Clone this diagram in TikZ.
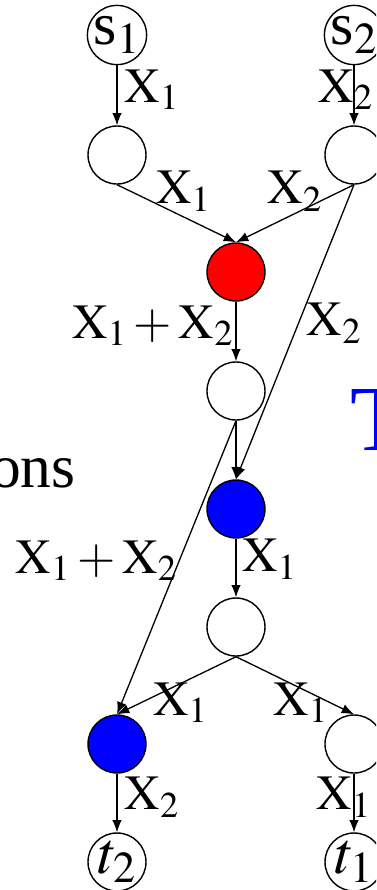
\documentclass[tikz,border=0pt]{standalone}
\usepackage{mathptmx}
\usepackage{fontspec}
\setmainfont{Liberation Serif}
\usetikzlibrary{arrows.meta}
\tikzset{
  >={Latex[length=7pt,width=5.5pt]},
  vtx/.style ={circle,draw=black,line width=0.8pt,minimum size=1.16cm,
               inner sep=0pt,font=\fontsize{34}{36}\selectfont},
  wvtx/.style={vtx,fill=white},
  rvtx/.style={vtx,fill=red},
  bvtx/.style={vtx,fill=blue},
  ar/.style  ={->,line width=0.75pt},
  lbl/.style ={inner sep=1pt,font=\fontsize{28}{30}\selectfont},
  slide/.style={inner sep=0pt},
}
\newcommand{\Xo}{$\mathrm{X}_1$}
\newcommand{\Xt}{$\mathrm{X}_2$}
\newcommand{\Xs}{$\mathrm{X}_1+\mathrm{X}_2$}

\begin{document}
\begin{tikzpicture}
\useasboundingbox (0,0) rectangle (7.52,-17.8);
\clip (0,0) rectangle (7.52,-17.8);
% bits of the slide around the figure
\node[slide,anchor=base east,font=\fontsize{35}{38}\selectfont] (w1) at (1.52,-9.74) {ions};
\node[slide,anchor=base west,text=blue,font=\fontsize{53}{56}\selectfont] (w2) at (7.0,-9.0) {T};
\node[slide,anchor=base east,text=blue,font=\fontsize{53}{56}\selectfont] (w3) at (0.02,-9.0) {V};
% sources
\node[vtx] (s1) at (2.34,-0.70) {s$_1$};
\node[vtx] (s2) at (7.08,-0.70) {s$_2$};
\node[wvtx] (a1) at (2.34,-3.10) {};
\node[wvtx] (a2) at (7.08,-3.10) {};
% middle column
\node[rvtx] (m1) at (4.72,-5.44) {};
\node[wvtx] (m2) at (4.72,-7.82) {};
\node[bvtx] (m3) at (4.72,-10.18) {};
\node[wvtx] (m4) at (4.72,-12.54) {};
% sinks
\node[bvtx] (b1) at (2.34,-14.88) {};
\node[wvtx] (b2) at (7.08,-14.88) {};
\node[vtx] (t2) at (2.34,-17.24) {$t_2$};
\node[vtx] (t1) at (7.08,-17.24) {$t_1$};
% edges
\draw[ar] (s1) -- (a1) node[lbl,pos=0.4,right,xshift=3pt] (l1) {\Xo};
\draw[ar] (s2) -- (a2) node[lbl,pos=0.4,xshift=-0.16cm] (l2) {\Xt};
\draw[ar] (a1.south) -- (m1.north) node[lbl,midway,above,xshift=0.14cm] (l3) {\Xo};
\draw[ar] (a2.south) -- (m1.north) node[lbl,midway,above] (l4) {\Xt};
\draw[ar] (m1) -- (m2) node[lbl,pos=0.4,left] (l5) {\Xs};
\draw[ar] (a2.south) -- (m3.north) node[lbl,pos=0.47,right,xshift=0.12cm] (l6) {\Xt};
\draw[ar] (m2) -- (m3);
\draw[ar] (m2.south) -- (b1.north) node[lbl,pos=0.476,left] (l7) {\Xs};
\draw[ar] (m3) -- (m4) node[lbl,pos=0.35,right,xshift=0.08cm] (l8) {\Xo};
\draw[ar] (m4.south) -- (b1.north) node[lbl,midway,xshift=0.08cm,yshift=-0.34cm] (l9) {\Xo};
\draw[ar] (m4.south) -- (b2.north) node[lbl,midway,xshift=0.12cm,yshift=-0.34cm] (l10) {\Xo};
\draw[ar] (b1) -- (t2) node[lbl,pos=0.4,right,xshift=3pt] (l11) {\Xt};
\draw[ar] (b2) -- (t1) node[lbl,pos=0.4,xshift=-0.2cm] (l12) {\Xo};
\end{tikzpicture}
\end{document}
